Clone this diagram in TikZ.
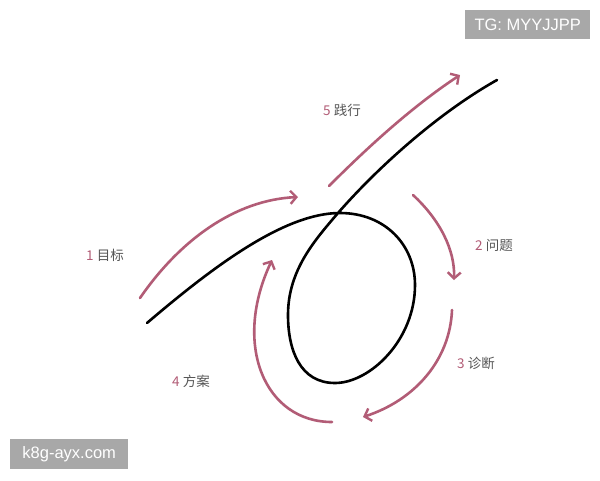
\documentclass[tikz,border=0pt]{standalone}
\usepackage{fontspec}
\setmainfont{Liberation Sans}
\newfontfamily\cjk{Noto Sans CJK SC}
\usetikzlibrary{arrows.meta}
\definecolor{rosy}{RGB}{178,92,118}
\definecolor{labelgray}{RGB}{85,85,85}
\definecolor{markgray}{RGB}{168,168,168}
\tikzstyle{loopline}=[line width=2.6pt,draw=black,line cap=round]
\tikzstyle{steparrow}=[line width=2.6pt,draw=rosy,line cap=round,
-{Straight Barb[length=6pt,width=13pt,line width=2.4pt]}]
\tikzstyle{steplabel}=[font=\cjk\fontsize{13.5}{15}\selectfont,text=labelgray,inner sep=0pt]
\tikzstyle{watermark}=[fill=markgray,text=white,font=\fontsize{16.5}{18}\selectfont,
inner sep=0pt,anchor=north west]

\begin{document}
\begin{tikzpicture}[x=1pt,y=-1pt]
            \useasboundingbox[fill=white] (0,0) rectangle (600,480);

            % MAIN CURVE

            \coordinate (c0) at (147,323);
            \coordinate (cx) at (340,213);
            \coordinate (cr) at (415,285);
            \coordinate (cb) at (335,383);
            \coordinate (cl) at (288,315);
            \coordinate (cc) at (338,213);
            \coordinate (c1) at (497,80);

            \draw[loopline] (c0) .. controls (215,265) and (285,213) .. (cx)
                .. controls (385,213) and (415,245) .. (cr)
                .. controls (415,340) and (370,383) .. (cb)
                .. controls (300,383) and (288,350) .. (cl)
                .. controls (288,270) and (315,240) .. (cc)
                .. controls (380,165) and (440,112) .. (c1);

            % ARROWS

            \coordinate (a1s) at (140,298);
            \coordinate (a1e) at (298,197);
            \coordinate (a2s) at (413,195);
            \coordinate (a2e) at (454,280);
            \coordinate (a3s) at (452,310);
            \coordinate (a3e) at (363,417);
            \coordinate (a4s) at (332,422);
            \coordinate (a4e) at (272,260);
            \coordinate (a5s) at (329,186);
            \coordinate (a5e) at (460,75);

            \draw[steparrow] (a1s) .. controls (180,240) and (235,200) .. (a1e);
            \draw[steparrow] (a2s) .. controls (440,220) and (455,250) .. (a2e);
            \draw[steparrow] (a3s) .. controls (450,360) and (415,400) .. (a3e);
            \draw[steparrow] (a4s) .. controls (265,422) and (232,345) .. (a4e);
            \draw[steparrow] (a5s) .. controls (365,150) and (410,108) .. (a5e);

            % LABELS

            \node[steplabel] (l1) at (105,255) {\textcolor{rosy}{1} 目标};
            \node[steplabel] (l2) at (494,245) {\textcolor{rosy}{2} 问题};
            \node[steplabel] (l3) at (476,363) {\textcolor{rosy}{3} 诊断};
            \node[steplabel] (l4) at (191,381) {\textcolor{rosy}{4} 方案};
            \node[steplabel] (l5) at (342,110) {\textcolor{rosy}{5} 践行};

            % WATERMARKS

            \node[watermark,minimum width=125pt,minimum height=29pt] (w1) at (465,10) {TG: MYYJJPP};
            \node[watermark,minimum width=118pt,minimum height=30pt] (w2) at (10,439) {k8g-ayx.com};

        \end{tikzpicture}
\end{document}
